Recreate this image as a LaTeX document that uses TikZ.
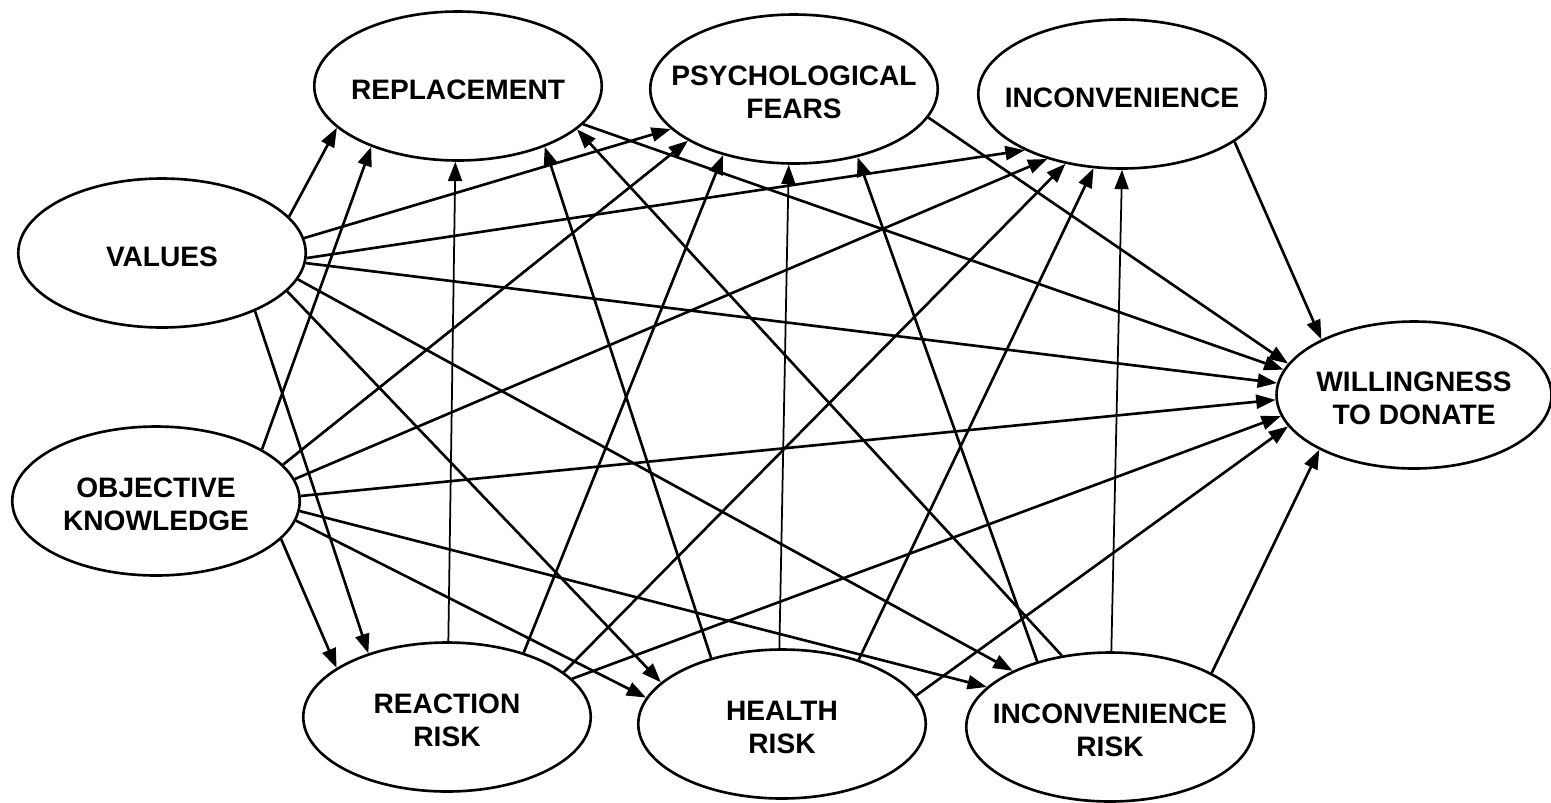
\documentclass[tikz,border=0pt]{standalone}
\usepackage{fontspec}
\setmainfont{Liberation Sans}
\usetikzlibrary{arrows.meta,shapes.geometric}
\begin{document}
\begin{tikzpicture}[x=0.02cm,y=-0.02cm,
  var/.style={ellipse,draw,line width=1.5pt,minimum width=5.75cm,minimum height=2.98cm,inner sep=0pt},
  lab/.style={align=center,inner sep=0pt,yshift=-2pt,font=\fontsize{16}{19}\selectfont\bfseries},
  conn/.style={line width=1.5pt,-{Triangle[length=11pt,width=8pt]}},
  thinconn/.style={conn,line width=1pt}]
\useasboundingbox (0,0) rectangle (1551,802);
\fill[white] (0,0) rectangle (1551,802);
% nodes
\node[var,label={[lab]center:REPLACEMENT}] (R) at (458,86) {};
\node[var,label={[lab]center:{PSYCHOLOGICAL\\FEARS}}] (PF) at (794,89) {};
\node[var,label={[lab]center:INCONVENIENCE}] (I) at (1122,94) {};
\node[var,label={[lab]center:VALUES}] (V) at (162,253) {};
\node[var,label={[lab]center:{OBJECTIVE\\KNOWLEDGE}}] (OK) at (156,501) {};
\node[var,minimum width=5.5cm,minimum height=2.94cm,label={[lab]center:{WILLINGNESS\\TO DONATE}}] (W) at (1414,395) {};
\node[var,label={[lab]center:{REACTION\\RISK}}] (RR) at (447,717) {};
\node[var,label={[lab]center:{HEALTH\\RISK}}] (HR) at (782,724) {};
\node[var,label={[lab]center:{INCONVENIENCE\\RISK}}] (IR) at (1110,727) {};
% values
\draw[conn] (V.16) -- (R.199);
\draw[conn] (V.6) -- (PF.198);
\draw[conn] (V.358) -- (I.210);
\draw[conn] (V.356) -- (W.175);
\draw[conn] (V.349) -- (IR.150);
\draw[conn] (V.343) -- (HR.161);
\draw[conn] (V.328) -- (RR.141);
% objective knowledge
\draw[conn] (OK.26) -- (R.215);
\draw[conn] (OK.16) -- (PF.206);
\draw[conn] (OK.9) -- (I.221);
\draw[conn] (OK.2) -- (W.182);
\draw[conn] (OK.356) -- (IR.162);
\draw[conn] (OK.352) -- (HR.169);
\draw[conn] (OK.343) -- (RR.156);
% reaction risk
\draw[thinconn] (RR.89) -- (R.268);
\draw[conn] (RR.40) -- (PF.223);
\draw[conn] (RR.21) -- (I.231);
\draw[conn] (RR.17) -- (W.189);
% health risk
\draw[conn] (HR.137) -- (R.325);
\draw[thinconn] (HR.92) -- (PF.266);
\draw[conn] (HR.40) -- (I.249);
\draw[conn] (HR.12) -- (W.194);
% inconvenience risk
\draw[conn] (IR.124) -- (R.340);
\draw[conn] (IR.138) -- (PF.313);
\draw[thinconn] (IR.89) -- (I.270);
\draw[conn] (IR.28) -- (W.210);
% mediators to willingness
\draw[conn] (R.343) -- (W.169);
\draw[conn] (PF.348) -- (W.166);
\draw[conn] (I.337) -- (W.149);
\end{tikzpicture}
\end{document}
